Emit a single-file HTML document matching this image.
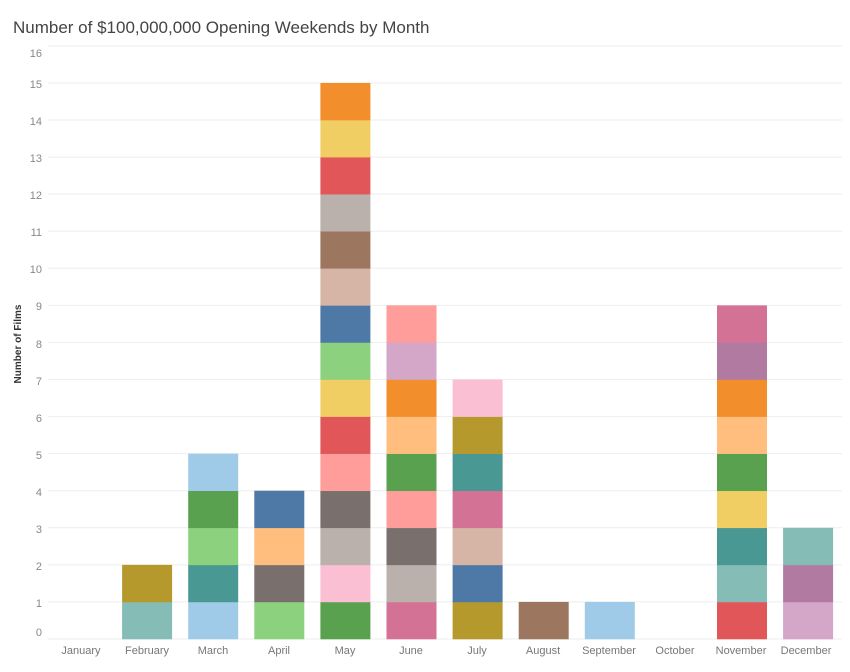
<!DOCTYPE html>
<html><head><meta charset="utf-8"><style>
body{margin:0;background:#fff;width:850px;height:667px;overflow:hidden;font-family:"Liberation Sans",sans-serif}
</style></head><body>
<svg id="s" width="850" height="667" xmlns="http://www.w3.org/2000/svg" font-family="Liberation Sans, sans-serif">
<text x="13" y="33" font-size="17" fill="#444">Number of $100,000,000 Opening Weekends by Month</text>
<g id="grid"></g>
<g font-size="11" fill="#888" text-anchor="end">
<text x="42" y="636">0</text><text x="42" y="607">1</text><text x="42" y="570">2</text><text x="42" y="533">3</text><text x="42" y="496">4</text><text x="42" y="459">5</text><text x="42" y="422">6</text><text x="42" y="385">7</text><text x="42" y="348">8</text><text x="42" y="310">9</text><text x="42" y="273">10</text><text x="42" y="236">11</text><text x="42" y="199">12</text><text x="42" y="162">13</text><text x="42" y="125">14</text><text x="42" y="88">15</text><text x="42" y="57">16</text>
</g>
<text transform="translate(21,344) rotate(-90)" font-size="10" font-weight="bold" fill="#333" text-anchor="middle">Number of Films</text>
<g id="bars"></g>
<g font-size="11" fill="#777" text-anchor="middle">
<text x="81" y="654">January</text><text x="147" y="654">February</text><text x="213" y="654">March</text><text x="279" y="654">April</text><text x="345" y="654">May</text><text x="411" y="654">June</text><text x="477" y="654">July</text><text x="543" y="654">August</text><text x="609" y="654">September</text><text x="675" y="654">October</text><text x="741" y="654">November</text><text x="806" y="654">December</text>
</g>
</svg>
<script>
var B=639,U=37.07,ns="http://www.w3.org/2000/svg";
var g=document.getElementById('grid'),b=document.getElementById('bars');
for(var i=0;i<=16;i++){var l=document.createElementNS(ns,'line');var y=B-i*U;l.setAttribute('x1',48);l.setAttribute('x2',842);l.setAttribute('y1',y);l.setAttribute('y2',y);l.setAttribute('stroke','#eee');l.setAttribute('stroke-width',1);g.appendChild(l);}
var C={b:'#4E79A7',lb:'#A0CBE8',o:'#F28E2B',lo:'#FFBE7D',g:'#59A14F',lg:'#8CD17D',ol:'#B6992D',y:'#F1CE63',t:'#499894',lt:'#86BCB6',r:'#E15759',pk:'#FF9D9A',gr:'#79706E',lgr:'#BAB0AC',m:'#D37295',lp:'#FABFD2',p:'#B07AA1',lpu:'#D4A6C8',br:'#9D7660',lbr:'#D7B5A6'};
var D=[[],['lt','ol'],['lb','t','lg','g','lb'],['lg','gr','lo','b'],
['g','lp','lgr','gr','pk','r','y','lg','b','lbr','br','lgr','r','y','o'],
['m','lgr','gr','pk','g','lo','o','lpu','pk'],
['ol','b','lbr','m','t','ol','lp'],['br'],['lb'],[],
['r','lt','t','y','g','lo','o','p','m'],['lpu','p','lt']];
D.forEach(function(st,i){var cx=81+i*66.1;st.forEach(function(c,k){var r=document.createElementNS(ns,'rect');r.setAttribute('x',cx-25);r.setAttribute('width',50);r.setAttribute('y',B-(k+1)*U);r.setAttribute('height',U+0.3);r.setAttribute('fill',C[c]);b.appendChild(r);});});
</script>
</body></html>
